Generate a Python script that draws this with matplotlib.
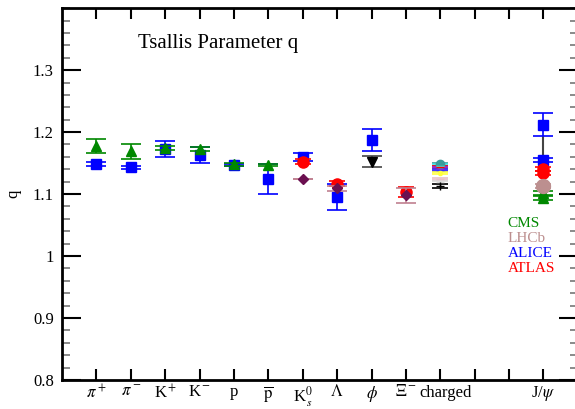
import numpy as np
import matplotlib.pyplot as plt
from matplotlib.ticker import MultipleLocator

plt.rcParams['font.family'] = ['Liberation Serif', 'DejaVu Serif']
plt.rcParams['mathtext.fontset'] = 'stix'

# categories (tick positions 1..14); "charged" is placed separately below
tick_pos = list(range(1, 15))
tick_labels = [r'$\pi^+$', r'$\pi^-$', r'K$^+$', r'K$^-$', 'p', r'$\overline{\rm p}$',
               r'K$^0_{\,s}$', r'$\Lambda$', r'$\phi$', r'$\Xi^-$', '', '', '', r'J/$\psi$']
charged_label = 'charged'

# CMS (green triangles)
cms_x = [1, 2, 3, 4, 5, 6, 14, 14]
cms_q = [1.178, 1.169, 1.174, 1.173, 1.148, 1.147, 1.102, 1.094]
cms_err = [0.011, 0.012, 0.003, 0.003, 0.002, 0.002, 0.003, 0.003]

# ALICE (blue squares)
alice_x = [1, 2, 3, 4, 5, 6, 7, 8, 9, 14, 14]
alice_q = [1.148, 1.143, 1.173, 1.163, 1.147, 1.124, 1.160, 1.095, 1.187, 1.212, 1.155]
alice_err = [0.003, 0.003, 0.013, 0.013, 0.002, 0.024, 0.006, 0.021, 0.018, 0.019, 0.004]

# ATLAS (red circles)
atlas_x = [7, 8, 10, 14, 14]
atlas_q = [1.152, 1.117, 1.103, 1.140, 1.134]
atlas_err = [0.004, 0.004, 0.008, 0.003, 0.003]

# LHCb (rosy circles)
lhcb_x = [14]
lhcb_q = [1.113]
lhcb_err = [0.004]

# other strange hadrons (dark diamonds)
diam_x = [7, 8, 10]
diam_q = [1.124, 1.109, 1.098]
diam_err = [0.0, 0.004, 0.012]

# phi (black down triangle)
phi_x = [9]
phi_q = [1.152]
phi_err = [0.009]

# charged hadrons, several datasets
ch_q = [1.148, 1.146, 1.144, 1.141, 1.139, 1.134, 1.124, 1.119, 1.113]
ch_err = [0.002, 0.002, 0.002, 0.002, 0.002, 0.002, 0.002, 0.002, 0.004]
ch_col = ['#3a9b9b', '#40e0e0', '#ff0000', '#8a2be2', '#3030ff', '#ffff40', '#e8c0c8', '#d8d8d8', '#000000']
ch_mk = ['o', '_', '_', '_', '_', '.', '_', '_', '+']

fig = plt.figure(figsize=(5.75, 4.09), dpi=100)
ax = fig.add_axes([0.108, 0.071, 0.897, 0.909])

ax.plot([14, 14], [1.157, 1.192], color='#444444', lw=1.5, zorder=1)

ax.errorbar(cms_x, cms_q, yerr=cms_err, fmt='^', color='#008800', ms=7,
            capsize=7, elinewidth=1.2, capthick=1.2, zorder=3)
ax.errorbar(alice_x, alice_q, yerr=alice_err, fmt='s', color='#0000ff', ms=7,
            capsize=7, elinewidth=1.2, capthick=1.2, zorder=2)
ax.errorbar(atlas_x, atlas_q, yerr=atlas_err, fmt='o', color='#ff0000', ms=8,
            capsize=6, elinewidth=1.2, capthick=1.2, zorder=3)
ax.errorbar(lhcb_x, lhcb_q, yerr=lhcb_err, fmt='o', color='#bc8f8f', ms=10,
            capsize=6, elinewidth=1.2, capthick=1.2, zorder=3)
ax.errorbar(diam_x, diam_q, yerr=diam_err, fmt='D', color='#6b1050', ms=5,
            capsize=7, elinewidth=1.2, capthick=1.2, ecolor='#c08090', zorder=4)
ax.errorbar(phi_x, phi_q, yerr=phi_err, fmt='v', color='#000000', ms=7,
            capsize=7, elinewidth=1.2, capthick=1.2, ecolor='#444444', zorder=3)
for q, e, c, m in zip(ch_q, ch_err, ch_col, ch_mk):
    ax.errorbar([11], [q], yerr=[e], fmt=m, color=c, ms=6, capsize=6,
                elinewidth=1.0, capthick=1.2, zorder=3)

ax.set_xlim(0, 15)
ax.set_ylim(0.8, 1.4)
ax.set_xticks(tick_pos)
ax.set_xticklabels(tick_labels, fontsize=12)
ax.text(11.15, -0.013, charged_label, transform=ax.get_xaxis_transform(),
        ha='center', va='top', fontsize=12)
ax.yaxis.set_minor_locator(MultipleLocator(0.02))
ax.set_yticks([0.8, 0.9, 1.0, 1.1, 1.2, 1.3])
ax.set_yticklabels(['0.8', '0.9', '1', '1.1', '1.2', '1.3'], fontsize=12)
ax.tick_params(axis='both', which='major', direction='in', top=True, right=True,
               width=1.5)
ax.tick_params(axis='y', which='major', length=14, pad=6)
ax.tick_params(axis='x', which='major', length=8, pad=3)
ax.tick_params(axis='y', which='minor', direction='in', right=True, length=6,
               width=1.2, color='#777777')
for s in ax.spines.values():
    s.set_linewidth(2)

ax.set_ylabel('q', fontsize=12, labelpad=8)
ax.text(2.2, 1.335, 'Tsallis Parameter q', fontsize=15)

leg = [('CMS', '#008800'), ('LHCb', '#bc8f8f'), ('ALICE', '#0000ff'), ('ATLAS', '#ff0000')]
for i, (name, c) in enumerate(leg):
    ax.text(12.95, 1.052 - i * 0.024, name, color=c, fontsize=11, va='center')

fig.savefig('out.png', dpi=100)
